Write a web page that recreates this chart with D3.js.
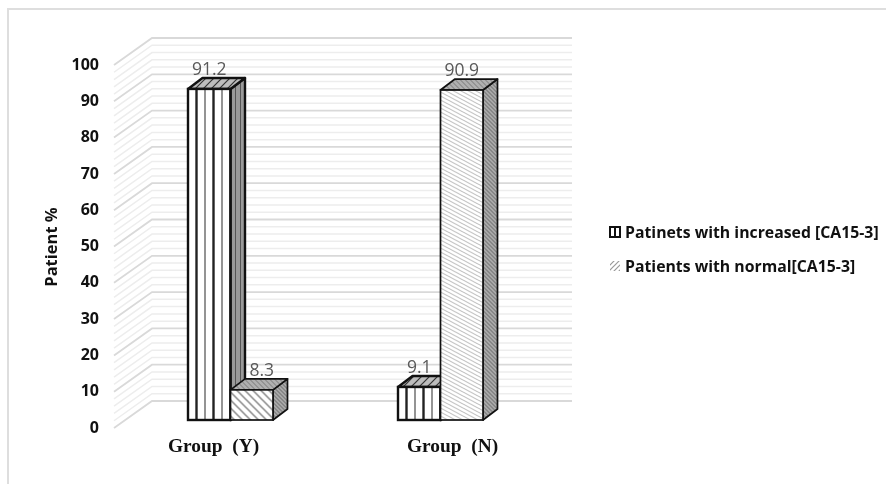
<!DOCTYPE html>
<html>
<head>
<meta charset="utf-8">
<script src="https://cdn.jsdelivr.net/npm/d3@7"></script>
<style>
  html, body { margin: 0; padding: 0; background: #fff; }
  svg { display: block; filter: blur(0.45px); }
  text { font-family: "Open Sans", sans-serif; }
</style>
</head>
<body>
<div id="graphic"></div>
<script>
// chart values
const groups = ["Group (Y)", "Group (N)"];
const seriesNames = ["Patinets with increased [CA15-3]", "Patients with normal[CA15-3]"];
const increased = [91.2, 9.1];
const normal = [8.3, 90.9];
const yTicks = [0, 10, 20, 30, 40, 50, 60, 70, 80, 90, 100];
const minorTicks = d3.range(0, 101, 2);

const width = 886;
const height = 484;

// wall is the back of the 3d box, bars stand part way into it
const wallDepth = {x: 38, y: -27};
const barDepth = {x: 14.5, y: -11};

const svg = d3.select("#graphic")
    .append("svg")
    .attr("width", width)
    .attr("height", height);

const defs = svg.append("defs");

function addPattern(id, size, bg, lines, transform) {
    const p = defs.append("pattern")
        .attr("id", id)
        .attr("patternUnits", "userSpaceOnUse")
        .attr("width", size)
        .attr("height", size);
    if (transform) p.attr("patternTransform", transform);
    p.append("rect").attr("width", size).attr("height", size).attr("fill", bg);
    lines.forEach(l => p.append("path")
        .attr("d", l.d)
        .attr("stroke", l.color)
        .attr("stroke-width", l.w)
        .attr("fill", "none"));
}

// series 1 faces
addPattern("s1-front", 17, "#fff", [
    {d: "M8.5,0V17", color: "#222", w: 2.4},
    {d: "M17,0V17", color: "#666", w: 1.4},
    {d: "M0,0V17", color: "#666", w: 1.4}
]);
addPattern("s1-top", 8, "#bdbdbd", [{d: "M-2,10L10,-2M-2,2L2,-2M6,10L10,6", color: "#333", w: 1.2}]);
addPattern("s1-side", 5, "#9a9a9a", [{d: "M2.5,0V5", color: "#555", w: 1}]);
// series 2 faces, the Y bar hatch is coarser than the N bar
addPattern("s2-front-0", 8, "#fff", [{d: "M-2,-2L10,10M-2,6L2,10M6,-2L10,2", color: "#888", w: 1.5}]);
addPattern("s2-front-1", 5, "#fff", [{d: "M-1,-1L6,6M-1,4L1,6M4,-1L6,1", color: "#bbb", w: 1}], "scale(1.5,0.8)");
addPattern("s2-top", 5, "#b0b0b0", [{d: "M-1,-1L6,6M-1,4L1,6M4,-1L6,1", color: "#777", w: 1}]);
addPattern("s2-side", 4, "#a8a8a8", [{d: "M-1,-1L5,5M-1,3L1,5M3,-1L5,1", color: "#666", w: 1}]);
addPattern("legend-hatch", 5, "#fff", [{d: "M-1,6L6,-1M-1,1L1,-1M4,6L6,4", color: "#999", w: 1.2}]);

// frame, only top and left show
svg.append("path")
    .attr("d", `M8,${height}V9H${width}`)
    .attr("fill", "none")
    .attr("stroke", "#dedede")
    .attr("stroke-width", 2);

// scales
const yWall = d3.scaleLinear().domain([0, 100]).range([428, 65]);
const yBar = d3.scaleLinear().domain([0, 100]).range([420, 57]);
const xWall = d3.scaleLinear().domain([0, 1]).range([114, 534]);
const xGroup = d3.scaleBand().domain(groups).range([125.5, 545.5]);
const xSeries = d3.scaleBand().domain([0, 1]).range([-42.5, 42.5]);

// grid on the walls
const grid = svg.append("g").attr("fill", "none");
function wallLine(v) {
    const y0 = yWall(v);
    return `M${xWall(0)},${y0}L${xWall(0) + wallDepth.x},${y0 + wallDepth.y}H${xWall(1) + wallDepth.x}`;
}
grid.selectAll("path.minor")
    .data(minorTicks.filter(v => !yTicks.includes(v)))
    .join("path")
    .attr("class", "minor")
    .attr("d", wallLine)
    .attr("stroke", "#ededed")
    .attr("stroke-width", 1.5);
grid.selectAll("path.major")
    .data(yTicks)
    .join("path")
    .attr("class", "major")
    .attr("d", wallLine)
    .attr("stroke", "#d9d9d9")
    .attr("stroke-width", 1.8);

// y axis
const yAxis = svg.append("g")
    .attr("transform", `translate(${xWall(0)},-1)`)
    .call(d3.axisLeft(yWall).tickValues(yTicks).tickSize(0).tickPadding(15));
yAxis.select(".domain").remove();
yAxis.selectAll("text")
    .attr("fill", "#111")
    .style("font-size", "16px")
    .style("font-weight", "700")
    .style("font-family", "'Open Sans', sans-serif");

svg.append("text")
    .attr("transform", "translate(57,247) rotate(-90)")
    .attr("text-anchor", "middle")
    .attr("fill", "#111")
    .style("font-size", "16.5px")
    .style("font-weight", "700")
    .text("Patient %");

// bars
const barData = [];
groups.forEach((g, i) => {
    barData.push({group: g, gi: i, series: 0, value: increased[i]});
    barData.push({group: g, gi: i, series: 1, value: normal[i]});
});

const bars = svg.selectAll("g.bar")
    .data(barData)
    .join("g")
    .attr("class", "bar")
    .attr("transform", d => `translate(${xGroup(d.group) + xGroup.bandwidth() / 2 + xSeries(d.series)},0)`);

bars.each(function(d) {
    const g = d3.select(this);
    const w = xSeries.bandwidth();
    const top = yBar(d.value);
    const bottom = yBar(0);
    const strokeW = d.series === 0 ? 2.4 : 1.7;
    const front = d.series === 0 ? "url(#s1-front)" : `url(#s2-front-${d.gi})`;
    const prefix = d.series === 0 ? "s1" : "s2";

    g.append("path")
        .attr("d", `M${w},${top}l${barDepth.x},${barDepth.y}V${bottom + barDepth.y}L${w},${bottom}Z`)
        .attr("fill", `url(#${prefix}-side)`)
        .attr("stroke", "#111").attr("stroke-width", strokeW).attr("stroke-linejoin", "round");
    g.append("path")
        .attr("d", `M0,${top}l${barDepth.x},${barDepth.y}h${w}l${-barDepth.x},${-barDepth.y}Z`)
        .attr("fill", `url(#${prefix}-top)`)
        .attr("stroke", "#111").attr("stroke-width", strokeW).attr("stroke-linejoin", "round");
    g.append("rect")
        .attr("y", top)
        .attr("width", w)
        .attr("height", bottom - top)
        .attr("fill", front)
        .attr("stroke", "#111").attr("stroke-width", strokeW);
});

// value labels, the 8.3 one sits off to the right of its bar in the original
bars.append("text")
    .attr("x", d => xSeries.bandwidth() / 2 + (d.value === 8.3 ? 10 : 0))
    .attr("y", d => yBar(d.value) + barDepth.y - 3)
    .attr("text-anchor", "middle")
    .attr("fill", "#595959")
    .style("font-size", "17.5px")
    .text(d => d.value);

// category labels, not quite centred on the groups in the original
const catShift = [-17, 12];
svg.selectAll("text.cat")
    .data(groups)
    .join("text")
    .attr("class", "cat")
    .attr("x", (d, i) => xGroup(d) + xGroup.bandwidth() / 2 + catShift[i])
    .attr("y", 452)
    .attr("text-anchor", "middle")
    .attr("fill", "#111")
    .style("font-family", "'Liberation Serif', serif")
    .style("font-size", "19.4px")
    .style("font-weight", "700")
    .text(d => d.replace(" ", "\u00a0\u00a0"));

// legend
const legend = svg.selectAll("g.legend")
    .data(seriesNames)
    .join("g")
    .attr("class", "legend")
    .attr("transform", (d, i) => `translate(609,${232 + i * 34})`);

legend.append("text")
    .attr("x", 16)
    .attr("dy", "0.35em")
    .attr("fill", "#111")
    .style("font-size", "15.8px")
    .style("font-weight", "700")
    .text(d => d);

legend.filter((d, i) => i === 0).each(function() {
    const g = d3.select(this);
    g.append("rect").attr("x", 1).attr("y", -5).attr("width", 10).attr("height", 10)
        .attr("fill", "#fff").attr("stroke", "#111").attr("stroke-width", 2);
    g.append("line").attr("x1", 6).attr("x2", 6).attr("y1", -5).attr("y2", 5)
        .attr("stroke", "#111").attr("stroke-width", 2);
});
legend.filter((d, i) => i === 1).append("rect")
    .attr("x", 1).attr("y", -5).attr("width", 10).attr("height", 10)
    .attr("fill", "url(#legend-hatch)");
</script>
</body>
</html>
